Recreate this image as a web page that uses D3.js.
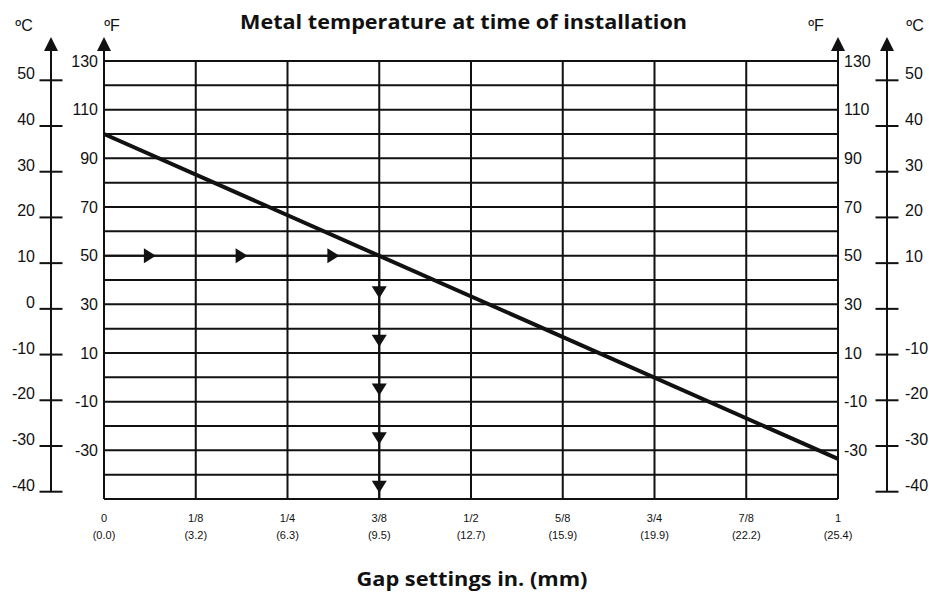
<!DOCTYPE html>
<html><head><meta charset="utf-8">
<script src="https://cdn.jsdelivr.net/npm/d3@7"></script>
<style>
body{margin:0;background:#fff;}
svg{display:block;}
.num{font-family:"Liberation Sans",Arial,sans-serif;font-size:16px;fill:#111;}
.xt{font-family:"Liberation Sans",Arial,sans-serif;font-size:11px;fill:#111;}
.ttl{font-family:"Open Sans",sans-serif;font-weight:700;fill:#111;}
</style></head>
<body>
<svg id="c" width="929" height="593"></svg>
<script>
// ---- data ----
const title = "Metal temperature at time of installation";
const xTitle = "Gap settings in. (mm)";
const xTicks = [0, 1/8, 1/4, 3/8, 1/2, 5/8, 3/4, 7/8, 1];
const xInchLabels = ["0","1/8","1/4","3/8","1/2","5/8","3/4","7/8","1"];
const xMmLabels = ["(0.0)","(3.2)","(6.3)","(9.5)","(12.7)","(15.9)","(19.9)","(22.2)","(25.4)"];
const fGrid = [130,120,110,100,90,80,70,60,50,40,30,20,10,0,-10,-20,-30,-40,-50];
const fLabels = [130,110,90,70,50,30,10,-10,-30];
const cTicks = [50,40,30,20,10,0,-10,-20,-30,-40];
const cLabelsLeft = ["50","40","30","20","10","0","-10","-20","-30","-40"];
const cLabelsRight = ["50","40","30","20","10","","-10","-20","-30","-40"];
const gapLine = [{gap:0, f:100},{gap:1, f:-33.5}];
const exampleF = 50, exampleGap = 3/8;
const hArrowGaps = [1/16, 3/16, 5/16];
const vArrowF = [35, 15, -5, -25, -45];

// ---- layout ----
const svg = d3.select("#c");
const x = d3.scaleLinear().domain([0,1]).range([104,838]);
const yF = d3.scaleLinear().domain([130,-50]).range([61,499]);
const yC = d3.scaleLinear().domain([50,-40]).range([80.3,491.7]);
const cLeftX = 51, cRightX = 887;
const ink = "#111";

// titles
svg.append("text").attr("class","ttl").attr("x",463.5).attr("y",29)
  .attr("text-anchor","middle").style("font-size","20px")
  .attr("textLength",447).attr("lengthAdjust","spacingAndGlyphs").text(title);
svg.append("text").attr("class","ttl").attr("x",472).attr("y",586)
  .attr("text-anchor","middle").style("font-size","20px")
  .attr("textLength",231).attr("lengthAdjust","spacingAndGlyphs").text(xTitle);

// horizontal grid
svg.append("g").selectAll("line").data(fGrid).join("line")
  .attr("x1",x(0)).attr("x2",x(1)).attr("y1",d=>yF(d)).attr("y2",d=>yF(d))
  .attr("stroke",ink).attr("stroke-width",2);
// vertical grid
svg.append("g").selectAll("line").data(xTicks).join("line")
  .attr("x1",d=>x(d)).attr("x2",d=>x(d)).attr("y1",yF(130)).attr("y2",yF(-50))
  .attr("stroke",ink).attr("stroke-width",2);

// F axes extend upward with arrows
function upArrow(cx, tipY){
  svg.append("path").attr("d",`M${cx},${tipY} L${cx-7},${tipY+14} L${cx+7},${tipY+14} Z`).attr("fill",ink);
}
[x(0), x(1)].forEach(px=>{
  svg.append("line").attr("x1",px).attr("x2",px).attr("y1",yF(130)).attr("y2",46)
    .attr("stroke",ink).attr("stroke-width",2);
  upArrow(px, 37);
});

// F labels
svg.append("g").selectAll("text").data(fLabels).join("text").attr("class","num")
  .attr("x",x(0)-6).attr("y",d=>yF(d)).attr("dy","0.35em").attr("text-anchor","end").text(d=>d);
svg.append("g").selectAll("text").data(fLabels).join("text").attr("class","num")
  .attr("x",x(1)+6).attr("y",d=>yF(d)).attr("dy","0.35em").attr("text-anchor","start").text(d=>d);

// C axes
[cLeftX, cRightX].forEach(px=>{
  svg.append("line").attr("x1",px).attr("x2",px).attr("y1",yC(-40)).attr("y2",46)
    .attr("stroke",ink).attr("stroke-width",2);
  upArrow(px, 37);
  svg.append("g").selectAll("line").data(cTicks).join("line")
    .attr("x1",px-11.5).attr("x2",px+11.5).attr("y1",d=>yC(d)).attr("y2",d=>yC(d))
    .attr("stroke",ink).attr("stroke-width",2);
});
svg.append("g").selectAll("text").data(cTicks).join("text").attr("class","num")
  .attr("x",cLeftX-16).attr("y",d=>yC(d)-1).attr("text-anchor","end").text((d,i)=>cLabelsLeft[i]);
svg.append("g").selectAll("text").data(cTicks).join("text").attr("class","num")
  .attr("x",cRightX+18).attr("y",d=>yC(d)-1).attr("text-anchor","start").text((d,i)=>cLabelsRight[i]);

// unit labels
svg.append("text").attr("class","num").attr("x",24).attr("y",31).attr("text-anchor","middle").text("ºC");
svg.append("text").attr("class","num").attr("x",112).attr("y",31).attr("text-anchor","middle").text("ºF");
svg.append("text").attr("class","num").attr("x",816).attr("y",31).attr("text-anchor","middle").text("ºF");
svg.append("text").attr("class","num").attr("x",915).attr("y",31).attr("text-anchor","middle").text("ºC");

// x tick labels
const xl = svg.append("g").selectAll("g").data(xTicks).join("g");
xl.append("text").attr("class","xt").attr("x",d=>x(d)).attr("y",522).attr("text-anchor","middle").text((d,i)=>xInchLabels[i]);
xl.append("text").attr("class","xt").attr("x",d=>x(d)).attr("y",539).attr("text-anchor","middle").text((d,i)=>xMmLabels[i]);

// example path
svg.append("line").attr("x1",x(0)).attr("x2",x(exampleGap)).attr("y1",yF(exampleF)).attr("y2",yF(exampleF))
  .attr("stroke",ink).attr("stroke-width",2);
svg.append("line").attr("x1",x(exampleGap)).attr("x2",x(exampleGap)).attr("y1",yF(exampleF)).attr("y2",yF(-50))
  .attr("stroke",ink).attr("stroke-width",2);
svg.append("g").selectAll("path").data(hArrowGaps).join("path")
  .attr("d",d=>{const cx=x(d), cy=yF(exampleF); return `M${cx+6},${cy} L${cx-6},${cy-7.5} L${cx-6},${cy+7.5} Z`;})
  .attr("fill",ink);
svg.append("g").selectAll("path").data(vArrowF).join("path")
  .attr("d",d=>{const cx=x(exampleGap), cy=yF(d); return `M${cx},${cy+6} L${cx-7.5},${cy-6} L${cx+7.5},${cy-6} Z`;})
  .attr("fill",ink);

// main line
svg.append("path").datum(gapLine)
  .attr("d",d3.line().x(d=>x(d.gap)).y(d=>yF(d.f)))
  .attr("stroke",ink).attr("stroke-width",4).attr("fill","none");
</script>
</body></html>
